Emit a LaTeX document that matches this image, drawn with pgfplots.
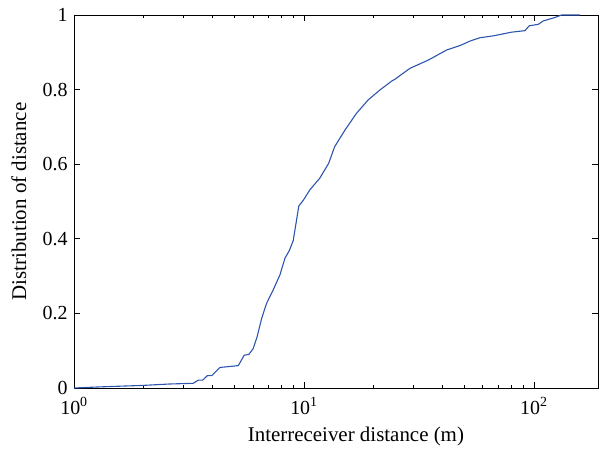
\documentclass[border=0pt]{standalone}
\usepackage{fontspec}
\setmainfont{Liberation Serif}
\usepackage{pgfplots}
\pgfplotsset{compat=1.18}
\definecolor{curve}{RGB}{45,85,175}
\begin{document}
\begin{tikzpicture}
\begin{axis}[
  scale only axis,
  width=524bp, height=373bp,
  xmode=log,
  xmin=1, xmax=190,
  ymin=0, ymax=1,
  xtick={1,10,100},
  minor xtick={2,3,4,5,6,7,8,9,20,30,40,50,60,70,80,90},
  xticklabels={10\textsuperscript{0},10\textsuperscript{1},10\textsuperscript{2}},
  ytick={0,0.2,0.4,0.6,0.8,1},
  yticklabels={0,0.2,0.4,0.6,0.8,1},
  tick align=inside,
  major tick length=6bp,
  minor tick length=3.5bp,
  axis line style={line width=0.9bp},
  every tick/.style={black, line width=0.8bp},
  tick label style={font=\fontsize{20}{24}\selectfont},
  xticklabel style={yshift=-6bp},
  yticklabel style={xshift=-3bp},
  xlabel={Interreceiver distance (m)},
  ylabel={Distribution of distance},
  every axis x label/.style={at={(axis description cs:0.538,-0.131)}, anchor=center, font=\fontsize{21}{25}\selectfont},
  every axis y label/.style={at={(axis description cs:-0.105,0.5)}, rotate=90, anchor=center, font=\fontsize{21}{25}\selectfont},
  clip=true,
]
\addplot[curve, line width=1.1bp] coordinates {
(1,0) (1.3,0.003) (2.0,0.007) (2.6,0.0107) (3.3,0.0126) (3.47,0.021) (3.63,0.021)
(3.80,0.033) (3.97,0.033) (4.31,0.055) (5.18,0.060) (5.50,0.088) (5.76,0.090)
(6.02,0.106) (6.26,0.138) (6.55,0.187) (6.88,0.227) (7.35,0.263) (7.86,0.303)
(8.27,0.348) (8.63,0.368) (8.98,0.395) (9.5,0.488) (9.95,0.504) (10.6,0.531)
(11.7,0.562) (12.8,0.602) (13.6,0.647) (15.1,0.692) (16.9,0.736) (19.0,0.772)
(21.4,0.799) (24.1,0.823) (24.9,0.828) (28.9,0.857) (34.7,0.879) (41.7,0.906)
(47.7,0.918) (52.7,0.930) (58.2,0.939) (66.5,0.944) (80.0,0.954) (91.4,0.958)
(95.4,0.971) (104.5,0.975) (109.7,0.984) (123,0.993) (132,1.0) (158.5,1.0)
};
\end{axis}
\pgfresetboundingbox
\path ([shift={(-74bp,-67bp)}]current axis.south west) rectangle ([shift={(3bp,15bp)}]current axis.north east);
\end{tikzpicture}
\end{document}
